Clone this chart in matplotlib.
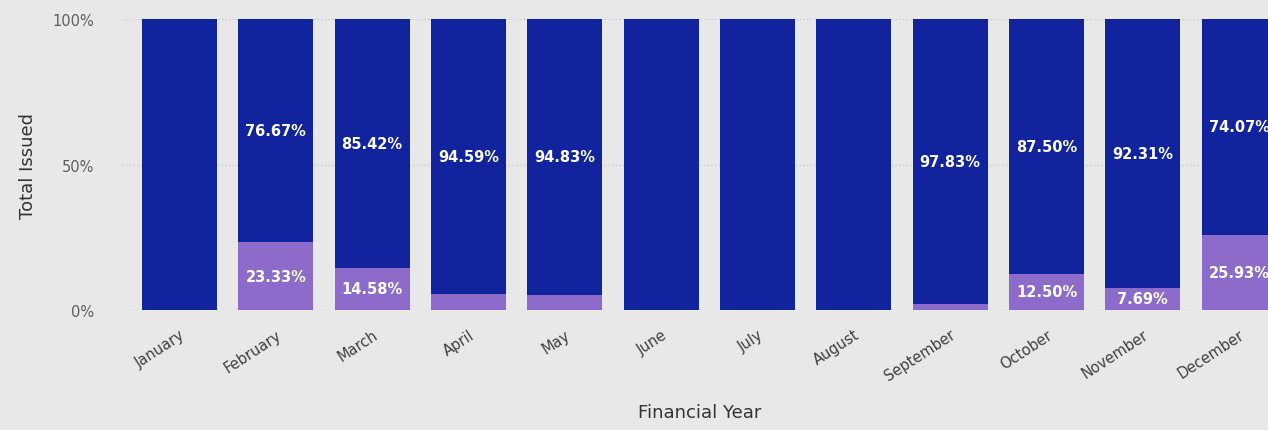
import matplotlib.pyplot as plt
import numpy as np

months = ['January', 'February', 'March', 'April', 'May', 'June', 'July',
          'August', 'September', 'October', 'November', 'December']
issued_main = [100.0, 76.67, 85.42, 94.59, 94.83, 100.0, 100.0, 100.0, 97.83, 87.50, 92.31, 74.07]
issued_other = [0.0, 23.33, 14.58, 5.41, 5.17, 0.0, 0.0, 0.0, 2.17, 12.50, 7.69, 25.93]

dark = '#12239E'
light = '#8D6BCB'
bg = '#E8E8E8'

fig = plt.figure(figsize=(12.68, 4.31), dpi=100, facecolor=bg)
ax = fig.add_axes([0.096, 0.2784, 0.904, 0.6752])
ax.set_facecolor(bg)

x = np.arange(len(months))
main = np.array(issued_main) / 100
other = np.array(issued_other) / 100
ax.bar(x, other, width=0.78, color=light, zorder=3)
ax.bar(x, main, width=0.78, bottom=other, color=dark, zorder=3)

for i in range(len(months)):
    if issued_main[i] < 100:
        ax.text(x[i], other[i] + main[i] / 2, f'{issued_main[i]:.2f}%', ha='center', va='center',
                color='white', fontsize=10.5, fontweight='bold', zorder=4)
    if issued_other[i] >= 7:
        ax.text(x[i], other[i] / 2, f'{issued_other[i]:.2f}%', ha='center', va='center',
                color='white', fontsize=10.5, fontweight='bold', zorder=4)

ax.set_xlim(-0.6, 11.30)
ax.set_ylim(0, 1)
ax.set_yticks([0, 0.5, 1])
ax.set_yticklabels(['0%', '50%', '100%'], color='#605E5C', fontsize=10.5)
ax.set_xticks(x)
ax.set_xticklabels(months, rotation=33, ha='right', rotation_mode='anchor',
                   color='#404040', fontsize=10.5)
ax.tick_params(axis='x', length=0, pad=12)
ax.tick_params(axis='y', length=0, pad=20)
ax.grid(axis='y', color='#C8C8C8', linestyle=':', linewidth=1, zorder=0)
for s in ax.spines.values():
    s.set_visible(False)

fig.text(0.022, 0.615, 'Total Issued', fontsize=13, color='#333333', rotation=90,
         ha='center', va='center')
fig.text(0.552, 0.03, 'Financial Year', fontsize=13, color='#333333', ha='center')

plt.savefig('out.png', dpi=100, facecolor=bg)
